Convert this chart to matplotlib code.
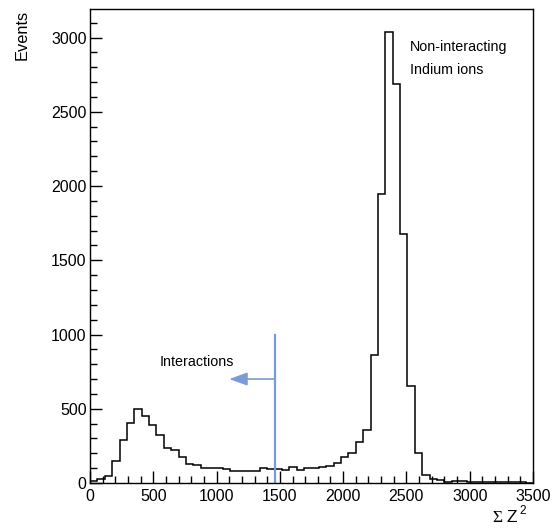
import numpy as np
import matplotlib
matplotlib.use("Agg")
import matplotlib.pyplot as plt
from matplotlib.ticker import MultipleLocator

plt.rcParams['font.family'] = ['Liberation Sans', 'DejaVu Sans']

# Sum of Z^2 spectrum: 60 bins between 0 and 3500
x_min, x_max, n_bins = 0, 3500, 60
counts = [
    12, 25, 50, 150, 290, 403, 497, 450, 390, 325,
    233, 220, 177, 130, 121, 100, 98, 98, 92, 81,
    81, 81, 80, 98, 92, 92, 85, 105, 90, 98,
    98, 105, 112, 132, 177, 202, 278, 360, 860, 1945,
    3040, 2690, 1675, 650, 200, 55, 25, 18, 10, 14,
    12, 8, 5, 4, 6, 8, 6, 4, 4, 3,
]

# Selection cut and annotations
cut_x = 1460
cut_top = 1000
arrow_y = 700
arrow_tip = 1100
interact_label = "Interactions"
peak_label = ["Non-interacting", "Indium ions"]

edges = np.linspace(x_min, x_max, n_bins + 1)

W, H = 553, 532
fig = plt.figure(figsize=(W / 100, H / 100), dpi=100)
ax = fig.add_axes([90 / W, 1 - 483 / H, (533 - 90) / W, (483 - 9) / H])

ax.stairs(counts, edges, color='black', lw=1.1, baseline=None)

ax.set_xlim(x_min, x_max)
ax.set_ylim(0, max(counts) * 1.05)

ax.xaxis.set_major_locator(MultipleLocator(500))
ax.xaxis.set_minor_locator(MultipleLocator(100))
ax.yaxis.set_major_locator(MultipleLocator(500))
ax.yaxis.set_minor_locator(MultipleLocator(100))
ax.tick_params(which='both', direction='in', top=False, right=False,
               labelsize=11.5, width=1, color='black')
ax.tick_params(which='major', length=8.5)
ax.tick_params(axis='x', which='major', pad=4.5)
ax.tick_params(axis='y', which='major', pad=2.5)
ax.tick_params(which='minor', length=5)
for s in ax.spines.values():
    s.set_linewidth(1)
    s.set_color('black')

blue = '#7b9bd8'
ax.plot([cut_x, cut_x], [0, cut_top], color=blue, lw=1.6)
ax.annotate('', xy=(arrow_tip, arrow_y), xytext=(cut_x, arrow_y),
            arrowprops=dict(arrowstyle='-|>,head_length=1.1,head_width=0.4',
                            color=blue, lw=1.2, shrinkA=0, shrinkB=0))

ax.text(553, 815, interact_label, fontsize=10.3, va='center', ha='left')
ax.text(2530, 2935, peak_label[0], fontsize=10.3, va='center', ha='left')
ax.text(2530, 2780, peak_label[1], fontsize=10.3, va='center', ha='left')

fig.text(22 / W, 1 - 10 / H, 'Events', rotation=90, ha='center', va='top',
         fontsize=11.8)

# x-axis title: Sigma Z^2 at the right end
fig.text(492 / W, 1 - 522 / H, 'Σ', fontsize=12.5, family='Liberation Serif',
         ha='left', va='baseline')
fig.text(506 / W, 1 - 522 / H, 'Z', fontsize=12.5, ha='left', va='baseline')
fig.text(519.5 / W, 1 - 514 / H, '2', fontsize=8.5, ha='left', va='baseline')

fig.savefig('out.png', dpi=100, facecolor='white')
